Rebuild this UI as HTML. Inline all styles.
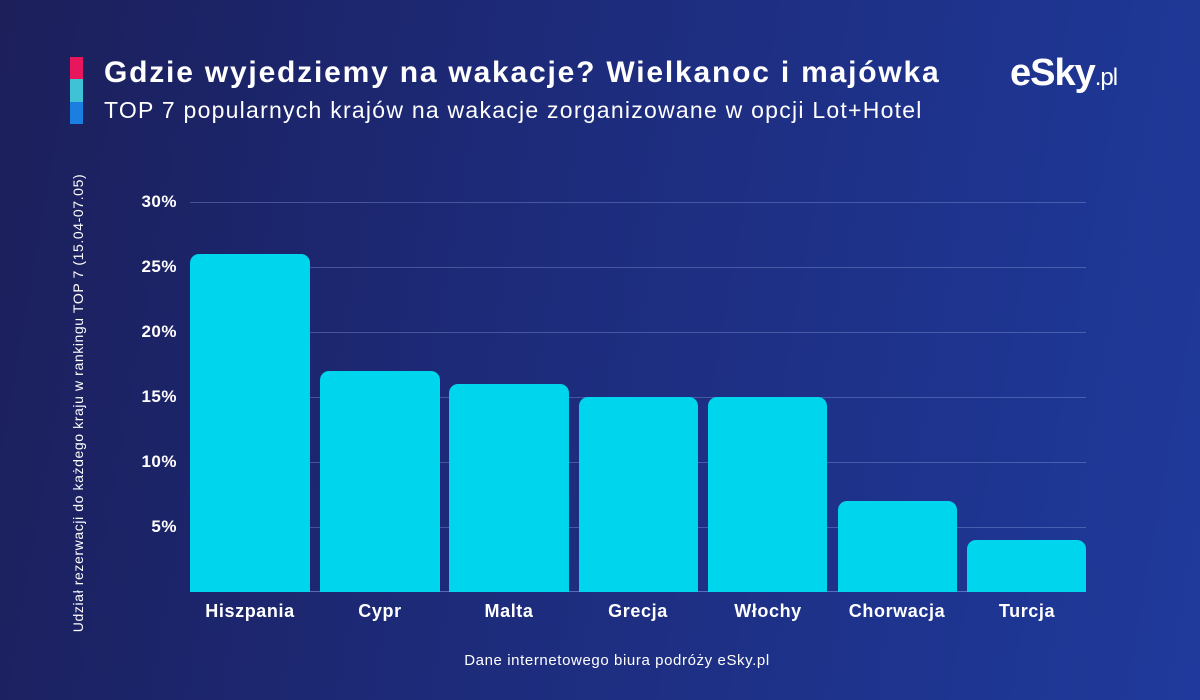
<!DOCTYPE html>
<html><head><meta charset="utf-8"><style>
body{margin:0;width:1200px;height:700px;overflow:hidden;font-family:"Liberation Sans","DejaVu Sans",sans-serif;}
.bg{position:absolute;left:0;top:0;width:1200px;height:700px;background:linear-gradient(100deg,#1c1f5a 0%,#1d2a78 40%,#1f3a9c 100%);}
.t{position:absolute;color:#fff;white-space:nowrap}
.bar{position:absolute;background:#00d5ee;border-radius:9px 9px 0 0}
.g{position:absolute;left:190px;width:896px;height:1px;background:rgba(150,170,230,0.35)}
.yl{position:absolute;right:1023px;color:#fff;font-weight:bold;font-size:17px;letter-spacing:0.5px}
.xl{position:absolute;width:130px;text-align:center;color:#fff;font-weight:bold;font-size:18px;letter-spacing:0.6px;top:601px}
</style></head><body>
<div class="bg"></div>
<div style="position:absolute;left:70px;top:57px;width:13px;height:22px;background:#e8175d"></div>
<div style="position:absolute;left:70px;top:79px;width:13px;height:23px;background:#3fc2d6"></div>
<div style="position:absolute;left:70px;top:102px;width:13px;height:22px;background:#1a7fe0"></div>
<div class="t" style="left:104px;top:56px;font-size:30px;font-weight:bold;letter-spacing:1.8px">Gdzie wyjedziemy na wakacje? Wielkanoc i majówka</div>
<div class="t" style="left:104px;top:97px;font-size:23px;letter-spacing:1.25px">TOP 7 popularnych krajów na wakacje zorganizowane w opcji Lot+Hotel</div>
<div class="t" style="left:1010px;top:52px;font-size:38px;font-weight:bold;letter-spacing:-1px">eSky<span style="font-size:24px;font-weight:normal">.pl</span></div>
<div class="g" style="top:202px"></div><div class="g" style="top:267px"></div><div class="g" style="top:332px"></div><div class="g" style="top:397px"></div><div class="g" style="top:462px"></div><div class="g" style="top:527px"></div><div class="g" style="top:591px;background:rgba(150,170,230,0.5)"></div>
<div class="yl" style="top:192px">30%</div><div class="yl" style="top:257px">25%</div><div class="yl" style="top:322px">20%</div><div class="yl" style="top:387px">15%</div><div class="yl" style="top:452px">10%</div><div class="yl" style="top:517px">5%</div>
<div class="bar" style="left:190px;width:120px;top:254px;height:338px"></div>
<div class="bar" style="left:320px;width:120px;top:371px;height:221px"></div>
<div class="bar" style="left:449px;width:120px;top:384px;height:208px"></div>
<div class="bar" style="left:579px;width:119px;top:397px;height:195px"></div>
<div class="bar" style="left:708px;width:119px;top:397px;height:195px"></div>
<div class="bar" style="left:838px;width:119px;top:501px;height:91px"></div>
<div class="bar" style="left:967px;width:119px;top:540px;height:52px"></div>
<div class="xl" style="left:185px">Hiszpania</div><div class="xl" style="left:315px">Cypr</div><div class="xl" style="left:444px">Malta</div><div class="xl" style="left:573px">Grecja</div><div class="xl" style="left:703px">Włochy</div><div class="xl" style="left:832px">Chorwacja</div><div class="xl" style="left:962px">Turcja</div>
<div class="t" style="left:417px;width:400px;text-align:center;top:652px;font-size:15px;letter-spacing:0.6px">Dane internetowego biura podróży eSky.pl</div>
<div class="t" style="left:78px;top:403px;font-size:14px;letter-spacing:0.6px;transform:translate(-50%,-50%) rotate(-90deg)">Udział rezerwacji do każdego kraju w rankingu TOP 7 (15.04-07.05)</div>
</body></html>
